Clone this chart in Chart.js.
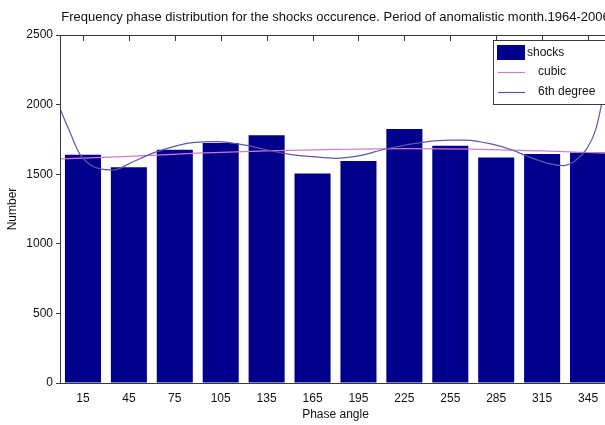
<!DOCTYPE html>
<html lang="en">
<head>
    <meta charset="UTF-8">
    <title>Frequency phase distribution</title>
    <style>
        body {
            margin: 0;
            padding: 0;
            background: #fff;
            overflow: hidden;
        }
        .wrap {
            width: 630px;
            height: 425px;
        }
    </style>
    <script src="https://cdn.jsdelivr.net/npm/chart.js@4"></script>
</head>
<body>
    <div class="wrap"><canvas id="chart"></canvas></div>

    <script>
        // values
        const phaseAngles = [15, 45, 75, 105, 135, 165, 195, 225, 255, 285, 315, 345];
        const shocks = [1640, 1550, 1675, 1725, 1780, 1505, 1595, 1825, 1705, 1620, 1645, 1655];

        const cubicAngles = [0, 45, 90, 135, 180, 225, 270, 315, 360];
        const cubicValues = [1610, 1628, 1652, 1668, 1678, 1684, 1680, 1667, 1650];

        const sixthAngles = [0, 6, 13, 27, 35, 47, 62, 88, 103, 118, 150, 165, 180, 195, 212, 238, 255, 265, 283, 294, 305, 318, 329, 337, 344, 350, 356, 360];
        const sixthValues = [1970, 1815, 1643, 1536, 1530, 1586, 1657, 1729, 1734, 1714, 1643, 1626, 1614, 1631, 1679, 1731, 1745, 1745, 1714, 1679, 1631, 1580, 1562, 1600, 1680, 1820, 2120, 2350];

        const yTicks = [0, 500, 1000, 1500, 2000, 2500];

        const barColor = '#00008c';
        const cubicColor = '#d27ad0';
        const sixthColor = '#5a5aa8';
        const frameColor = '#3a3a3a';
        const fontFamily = '"Liberation Sans", Arial, sans-serif';

        const toPoints = (xs, ys) => xs.map((x, i) => ({ x: x, y: ys[i] }));

        // MATLAB style box, inward top ticks, title and boxed legend
        const matlabFrame = {
            id: 'matlabFrame',
            afterDatasetsDraw(chart) {
                const ctx = chart.ctx;
                const a = chart.chartArea;
                const xs = chart.scales.x;
                ctx.save();
                ctx.strokeStyle = frameColor;
                ctx.lineWidth = 1;
                ctx.strokeRect(a.left + 0.5, a.top + 0.5, a.right - a.left, a.bottom - a.top);
                ctx.beginPath();
                phaseAngles.forEach(v => {
                    const px = Math.round(xs.getPixelForValue(v)) + 0.5;
                    ctx.moveTo(px, a.top);
                    ctx.lineTo(px, a.top + 6);
                });
                ctx.stroke();

                ctx.fillStyle = '#111';
                ctx.font = '13px ' + fontFamily;
                ctx.textAlign = 'center';
                ctx.textBaseline = 'middle';
                ctx.fillText('Frequency phase distribution for the shocks occurence. Period of anomalistic month.1964-2006',
                    (a.left + a.right) / 2, 17);

                // legend
                const lx = 493, ly = 40;
                ctx.font = '12px ' + fontFamily;
                ctx.fillStyle = '#fff';
                ctx.fillRect(lx, ly, 140, 64);
                ctx.strokeRect(lx + 0.5, ly + 0.5, 140, 64);
                const ds = chart.data.datasets;
                ctx.fillStyle = barColor;
                ctx.fillRect(497, 45, 28, 15);
                ctx.lineWidth = 1.2;
                ctx.strokeStyle = ds[1].borderColor;
                ctx.beginPath(); ctx.moveTo(498, 72.5); ctx.lineTo(525, 72.5); ctx.stroke();
                ctx.strokeStyle = ds[2].borderColor;
                ctx.beginPath(); ctx.moveTo(498, 92.5); ctx.lineTo(525, 92.5); ctx.stroke();
                ctx.fillStyle = '#111';
                ctx.textAlign = 'left';
                ctx.fillText(ds[0].label, 527, 53);
                ctx.fillText(ds[1].label, 538, 72);
                ctx.fillText(ds[2].label, 538, 92);
                ctx.restore();
            }
        };

        new Chart(document.getElementById('chart'), {
            type: 'bar',
            data: {
                datasets: [{
                    type: 'bar',
                    label: 'shocks',
                    data: toPoints(phaseAngles, shocks),
                    backgroundColor: barColor,
                    borderWidth: 0,
                    barPercentage: 0.785,
                    categoryPercentage: 1,
                    order: 3
                }, {
                    type: 'line',
                    label: 'cubic',
                    data: toPoints(cubicAngles, cubicValues),
                    borderColor: cubicColor,
                    borderWidth: 1.2,
                    pointRadius: 0,
                    cubicInterpolationMode: 'monotone',
                    order: 2
                }, {
                    type: 'line',
                    label: '6th degree',
                    data: toPoints(sixthAngles, sixthValues),
                    borderColor: sixthColor,
                    borderWidth: 1.2,
                    pointRadius: 0,
                    cubicInterpolationMode: 'monotone',
                    order: 1
                }]
            },
            options: {
                responsive: true,
                maintainAspectRatio: false,
                animation: false,
                layout: { padding: { top: 35, right: 19, bottom: 0, left: 0 } },
                plugins: {
                    legend: { display: false },
                    title: { display: false },
                    tooltip: { enabled: false }
                },
                scales: {
                    x: {
                        type: 'linear',
                        min: 0,
                        max: 360,
                        offset: false,
                        grid: { display: false, drawTicks: false },
                        border: { display: false },
                        afterBuildTicks: s => { s.ticks = phaseAngles.map(v => ({ value: v })); },
                        afterFit: s => { s.height = 42; },
                        ticks: {
                            padding: 8,
                            color: '#111',
                            font: { family: fontFamily, size: 12 },
                            maxRotation: 0,
                            autoSkip: false,
                            callback: v => String(v)
                        },
                        title: {
                            display: true,
                            text: 'Phase angle',
                            color: '#111',
                            font: { family: fontFamily, size: 12 },
                            padding: { top: 0, bottom: 3 }
                        }
                    },
                    y: {
                        min: 0,
                        max: 2500,
                        afterBuildTicks: s => { s.ticks = yTicks.map(v => ({ value: v })); },
                        afterFit: s => { s.width = 60; },
                        grid: { drawOnChartArea: false, drawTicks: true, tickLength: 4, color: frameColor },
                        border: { display: false },
                        ticks: {
                            padding: 3,
                            color: '#111',
                            font: { family: fontFamily, size: 12 },
                            callback: v => String(v)
                        },
                        title: {
                            display: true,
                            text: 'Number',
                            color: '#111',
                            font: { family: fontFamily, size: 12 },
                            padding: { top: 5, bottom: 0 }
                        }
                    }
                }
            },
            plugins: [matlabFrame]
        });
    </script>
</body>
</html>
